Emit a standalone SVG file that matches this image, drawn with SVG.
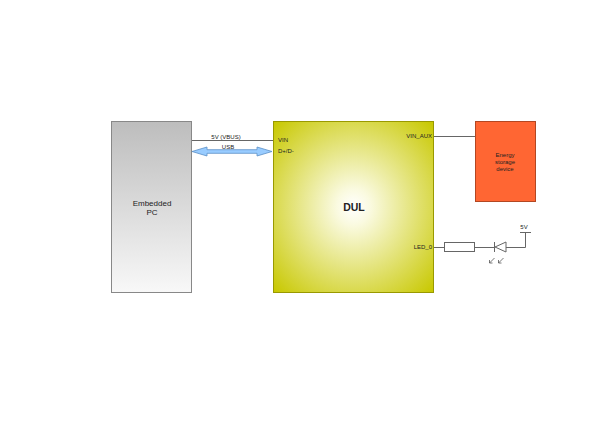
<svg xmlns="http://www.w3.org/2000/svg" width="600" height="424" viewBox="0 0 600 424">
<defs>
<linearGradient id="gPC" x1="0" y1="0" x2="0" y2="1">
<stop offset="0" stop-color="#bdbdbd"/>
<stop offset="1" stop-color="#f8f8f8"/>
</linearGradient>
<radialGradient id="gDUL" cx="0.5" cy="0.5" r="0.7">
<stop offset="0" stop-color="#ffffff"/>
<stop offset="0.15" stop-color="#fafae0"/>
<stop offset="1" stop-color="#c8c800"/>
</radialGradient>
<style>
.t{font-family:"Liberation Sans",Arial,sans-serif;fill:#222;}
.s{font-size:6px;}
.w{stroke:#666;stroke-width:1;fill:none;}
.ar{stroke:#555;stroke-width:0.8;fill:none;}
</style>
</defs>
<rect width="600" height="424" fill="#fff"/>
<g id="pc">
<rect x="111.5" y="121.5" width="80" height="171" fill="url(#gPC)" stroke="#888" stroke-width="1"/>
<text class="t" x="152" y="206" font-size="8" text-anchor="middle">Embedded</text>
<text class="t" x="152" y="215" font-size="8" text-anchor="middle">PC</text>
</g>
<g id="dul">
<rect x="273.5" y="121.5" width="160" height="171" fill="url(#gDUL)" stroke="#999900" stroke-width="1"/>
<text class="t" x="354" y="211" font-size="10.5" font-weight="bold" text-anchor="middle" fill="#111">DUL</text>
<text class="t s" x="278" y="142">VIN</text>
<text class="t s" x="278" y="153">D+/D-</text>
<text class="t s" x="432" y="138" text-anchor="end">VIN_AUX</text>
<text class="t s" x="432" y="249" text-anchor="end">LED_0</text>
</g>
<g id="energy">
<rect x="475.5" y="121.5" width="60" height="80" fill="#ff6633" stroke="#b34722" stroke-width="1"/>
<text class="t s" x="505" y="157" text-anchor="middle">Energy</text>
<text class="t s" x="505" y="164" text-anchor="middle">storage</text>
<text class="t s" x="505" y="171" text-anchor="middle">device</text>
</g>
<g id="resistor">
<rect x="444.5" y="242.5" width="30" height="9" fill="#fff" stroke="#666" stroke-width="1"/>
</g>
<g id="led">
<path d="M506,242 L506,252 L495,247 Z" fill="#fff" stroke="#666" stroke-width="1"/>
<line x1="494.5" y1="242" x2="494.5" y2="252" stroke="#666" stroke-width="1"/>
<path class="ar" d="M494.5,258 L489.5,263 M489.5,260 L489.5,263 L492.5,263"/>
<path class="ar" d="M503.5,258 L498.5,263 M498.5,260 L498.5,263 L501.5,263"/>
</g>
<g id="supply">
<line x1="520" y1="232.5" x2="531" y2="232.5" stroke="#666" stroke-width="1"/>
<text class="t s" x="524" y="229" text-anchor="middle">5V</text>
</g>
<g id="connectors">
<line class="w" x1="192" y1="140.5" x2="273" y2="140.5"/>
<text class="t s" x="226" y="138.5" text-anchor="middle">5V (VBUS)</text>
<path d="M192,151.5 L207,147 L207,149.7 L257,149.7 L257,147 L272,151.5 L257,156 L257,153.3 L207,153.3 L207,156 Z" fill="#99ccff" stroke="#5b8fc7" stroke-width="0.8"/>
<text class="t s" x="228" y="149" text-anchor="middle">USB</text>
<line class="w" x1="434" y1="136.5" x2="475" y2="136.5"/>
<line class="w" x1="434" y1="247.5" x2="444" y2="247.5"/>
<line class="w" x1="475" y1="247.5" x2="494.5" y2="247.5"/>
<polyline class="w" points="506,247.5 525.5,247.5 525.5,232.5"/>
</g>
</svg>
